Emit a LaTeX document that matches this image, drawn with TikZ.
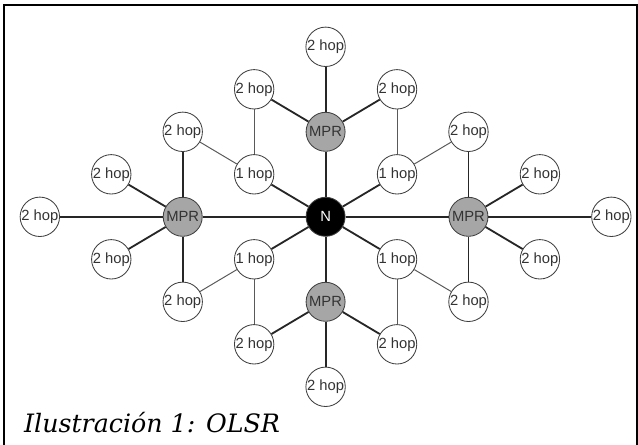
\documentclass[tikz,border=0pt]{standalone}
\usepackage{fontspec}
\newfontfamily\hopfont{Liberation Sans}
\newfontfamily\capfont{DejaVu Serif}

\begin{document}
\begin{tikzpicture}[x=1.786cm, y=1.0625cm,
      station/.style={circle, draw=black!75, line width=0.6pt, fill=white, minimum size=0.975cm, inner sep=0pt, text=black!80, font=\hopfont\fontsize{10.5}{11}\selectfont},
      mpr/.style={station, fill=black!35},
      origin/.style={station, fill=black, text=white},
      link/.style={line width=1.3pt, black!85},
      hop/.style={line width=0.7pt, black!65},
      ]
      \useasboundingbox (-8.14cm,-5.68cm) rectangle (7.81cm,5.42cm);
      \draw[line width=1.3pt] (-8.03cm,-5.9cm) -- (-8.03cm,5.29cm) -- (7.795cm,5.29cm) -- (7.795cm,-5.9cm);

      % centre and its relays
      \node[origin] (N) at (0,0) {N};
      \node[mpr] (MT) at (0,2) {MPR};
      \node[mpr] (MB) at (0,-2) {MPR};
      \node[mpr] (ML) at (-2,0) {MPR};
      \node[mpr] (MR) at (2,0) {MPR};

      % one hop neighbours
      \node[station] (O1) at (-1,1) {1 hop};
      \node[station] (O2) at (1,1) {1 hop};
      \node[station] (O3) at (-1,-1) {1 hop};
      \node[station] (O4) at (1,-1) {1 hop};

      % two hop neighbours
      \node[station] (T1) at (0,4) {2 hop};
      \node[station] (T2) at (-1,3) {2 hop};
      \node[station] (T3) at (1,3) {2 hop};
      \node[station] (B1) at (0,-4) {2 hop};
      \node[station] (B2) at (-1,-3) {2 hop};
      \node[station] (B3) at (1,-3) {2 hop};
      \node[station] (L1) at (-2,2) {2 hop};
      \node[station] (L2) at (-3,1) {2 hop};
      \node[station] (L3) at (-4,0) {2 hop};
      \node[station] (L4) at (-3,-1) {2 hop};
      \node[station] (L5) at (-2,-2) {2 hop};
      \node[station] (R1) at (2,2) {2 hop};
      \node[station] (R2) at (3,1) {2 hop};
      \node[station] (R3) at (4,0) {2 hop};
      \node[station] (R4) at (3,-1) {2 hop};
      \node[station] (R5) at (2,-2) {2 hop};

      \draw[link] (N) -- (MT);
      \draw[link] (N) -- (MB);
      \draw[link] (N) -- (ML);
      \draw[link] (N) -- (MR);
      \draw[link] (N) -- (O1);
      \draw[link] (N) -- (O2);
      \draw[link] (N) -- (O3);
      \draw[link] (N) -- (O4);

      \draw[link] (MT) -- (T1);
      \draw[link] (MT) -- (T2);
      \draw[link] (MT) -- (T3);
      \draw[link] (MB) -- (B1);
      \draw[link] (MB) -- (B2);
      \draw[link] (MB) -- (B3);
      \draw[link] (ML) -- (L1);
      \draw[link] (ML) -- (L2);
      \draw[link] (ML) -- (L3);
      \draw[link] (ML) -- (L4);
      \draw[link] (ML) -- (L5);
      \draw[link] (MR) -- (R1);
      \draw[link] (MR) -- (R2);
      \draw[link] (MR) -- (R3);
      \draw[link] (MR) -- (R4);
      \draw[link] (MR) -- (R5);

      \draw[hop] (O1) -- (T2);
      \draw[hop] (O1) -- (L1);
      \draw[hop] (O2) -- (T3);
      \draw[hop] (O2) -- (R1);
      \draw[hop] (O3) -- (B2);
      \draw[hop] (O3) -- (L5);
      \draw[hop] (O4) -- (B3);
      \draw[hop] (O4) -- (R5);

      \node[anchor=base west, font=\capfont\itshape\fontsize{18}{22}\selectfont] (caption) at (-7.66cm,-5.38cm) {Ilustración 1: OLSR};
    \end{tikzpicture}
\end{document}
